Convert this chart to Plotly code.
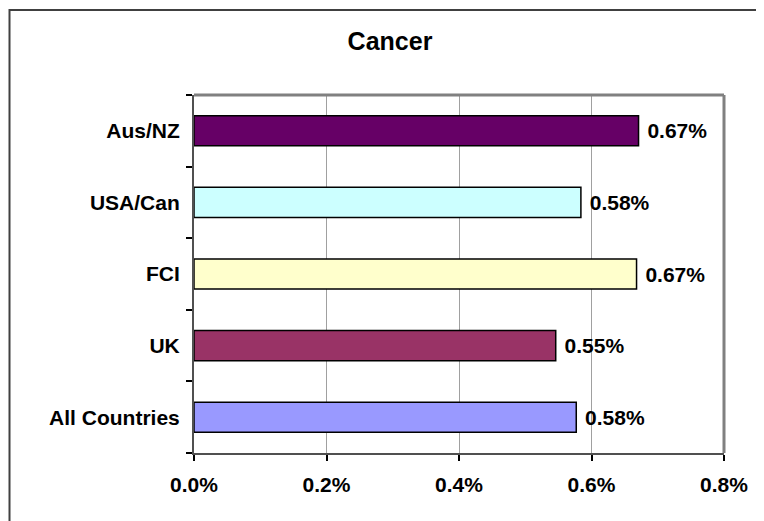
import plotly.graph_objects as go

categories = ["All Countries", "UK", "FCI", "USA/Can", "Aus/NZ"]
values = [0.577, 0.546, 0.668, 0.584, 0.671]
colors = ["#9999FF", "#993366", "#FFFFCC", "#CCFFFF", "#660066"]
tick_vals = [0.0, 0.2, 0.4, 0.6, 0.8]
tick_text = ["0.0%", "0.2%", "0.4%", "0.6%", "0.8%"]

FONT = "Liberation Sans, Arial, sans-serif"

fig = go.Figure(go.Bar(
    y=categories, x=values, orientation="h",
    marker=dict(color=colors, line=dict(color="black", width=1.5)),
    texttemplate=" %{x:.2f}%", textposition="outside",
    textfont=dict(family=FONT, size=21, color="black", weight="bold"),
    cliponaxis=False, width=0.42,
))

fig.update_layout(
    width=764, height=521,
    margin=dict(l=186, r=48, t=87, b=76),
    paper_bgcolor="white", plot_bgcolor="white",
    showlegend=False,
    title=dict(text="Cancer", x=0.5, xanchor="center", y=1 - 33 / 521, yanchor="middle",
               font=dict(family=FONT, size=25, color="black", weight="bold")),
    xaxis=dict(range=[0, 0.8], tickvals=tick_vals, ticktext=tick_text,
               showgrid=True, gridcolor="#A0A0A0", gridwidth=1,
               showline=True, linecolor="#505050", linewidth=2,
               ticks="outside", ticklen=6, tickcolor="black", tickwidth=1.5,
               tickfont=dict(family=FONT, size=21, color="black", weight="bold"),
               ticklabelstandoff=6,
               zeroline=False, fixedrange=True),
    yaxis=dict(showline=True, linecolor="#505050", linewidth=2,
               ticks="outside", tickson="boundaries", ticklen=6, tickcolor="black", tickwidth=1.5,
               tickfont=dict(family=FONT, size=21, color="black", weight="bold"),
               ticklabelstandoff=8,
               showgrid=False, fixedrange=True),
    shapes=[
        dict(type="line", xref="paper", yref="paper", x0=0, x1=1, y0=1, y1=1,
             line=dict(color="#808080", width=3)),
        dict(type="line", xref="paper", yref="paper", x0=1, x1=1, y0=0, y1=1,
             line=dict(color="#808080", width=3)),
        dict(type="rect", xref="paper", yref="paper",
             x0=-0.3481, x1=1.0868, y0=-0.2235, y1=1.2374,
             line=dict(color="#404040", width=2), fillcolor="rgba(0,0,0,0)"),
    ],
)

fig.write_html("out.html")
